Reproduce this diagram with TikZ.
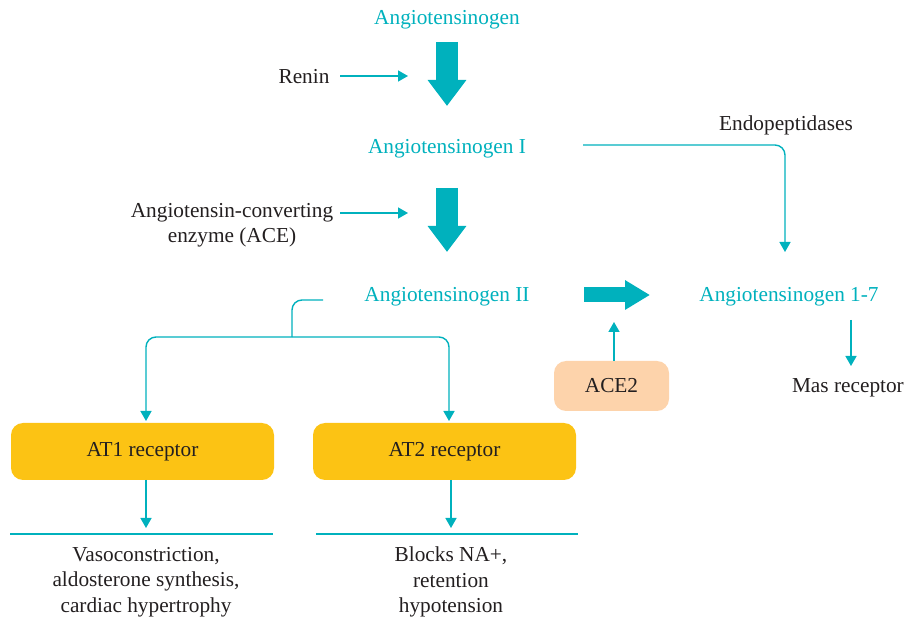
\documentclass[tikz,border=0pt]{standalone}
\usepackage{fontspec}
\setmainfont{Liberation Serif}
\usetikzlibrary{arrows.meta}
\definecolor{teal1}{HTML}{00B1BD}
\definecolor{ink}{HTML}{231F20}
\definecolor{gold}{HTML}{FCC314}
\definecolor{peach}{HTML}{FDD3AB}
\begin{document}
\begin{tikzpicture}[x=1pt,y=-1pt,font=\fontsize{21.3}{25.5}\selectfont,
  mol/.style={text=teal1,inner sep=0pt},
  lbl/.style={text=ink,inner sep=0pt,align=center},
  conn/.style={draw=teal1,line width=1.4pt},
  tarrow/.style={conn,-{Triangle[width=11pt,length=10pt]}},
  bigv/.style={draw=teal1,line width=22pt,-{Triangle[width=37pt,length=26pt]}},
  bigh/.style={draw=teal1,line width=15pt,-{Triangle[width=28pt,length=25pt]}},
  recbox/.style={rounded corners=12pt,fill=gold,minimum width=263pt,minimum height=57pt,text=ink,inner sep=0pt}]
\useasboundingbox (0,0) rectangle (906,620);
% molecules
\node[mol] (ang) at (447,20) {Angiotensinogen};
\node[mol] (ang1) at (447,149) {Angiotensinogen I};
\node[mol] (ang2) at (447,297) {Angiotensinogen II};
\node[mol] (ang17) at (789,297) {Angiotensinogen 1-7};
% labels
\node[lbl] (renin) at (304,77) {Renin};
\node[lbl] (ace) at (232,225) {Angiotensin-converting\\enzyme (ACE)};
\node[lbl] (endo) at (786,125) {Endopeptidases};
\node[lbl,anchor=east] (mas) at (904,388) {Mas receptor};
% boxes
\node[recbox] (at1) at (142.5,451.5) {AT1 receptor};
\node[recbox] (at2) at (444.5,451.5) {AT2 receptor};
\node[recbox,fill=peach,minimum width=115pt,minimum height=50pt] (ace2) at (611.5,386) {ACE2};
% effects
\node[lbl] (eff1) at (146,582) {Vasoconstriction,\\aldosterone synthesis,\\cardiac hypertrophy};
\node[lbl] (eff2) at (451,582) {Blocks NA+,\\retention\\hypotension};
% coordinates
\coordinate (b1s) at (447,42);  \coordinate (b1e) at (447,106);
\coordinate (b2s) at (447,188); \coordinate (b2e) at (447,252);
\coordinate (b3s) at (584,295); \coordinate (b3e) at (650,295);
\coordinate (rs) at (340,76);   \coordinate (re) at (408,76);
\coordinate (as) at (340,213);  \coordinate (ae) at (408,213);
\coordinate (es) at (583,145);  \coordinate (ee) at (785,252);
\coordinate (bs) at (323,300);  \coordinate (bm) at (292,337);
\coordinate (t1) at (146,421);  \coordinate (t2) at (449,421);
\coordinate (c2s) at (614,361); \coordinate (c2e) at (614,322);
\coordinate (ms) at (851,320);  \coordinate (me) at (851,366);
\coordinate (a1s) at (146,480); \coordinate (a1e) at (146,528);
\coordinate (a2s) at (451,480); \coordinate (a2e) at (451,528);
\coordinate (l1s) at (10,534);  \coordinate (l1e) at (273,534);
\coordinate (l2s) at (316,534); \coordinate (l2e) at (578,534);
% big arrows
\draw[bigv] (b1s) -- (b1e);
\draw[bigv] (b2s) -- (b2e);
\draw[bigh] (b3s) -- (b3e);
% thin arrows
\draw[tarrow] (rs) -- (re);
\draw[tarrow] (as) -- (ae);
\draw[tarrow,rounded corners=10pt] (es) -| (ee);
\draw[conn,rounded corners=10pt] (bs) -| (bm);
\draw[tarrow,rounded corners=10pt] (bm) -| (t1);
\draw[tarrow,rounded corners=10pt] (bm) -| (t2);
\draw[tarrow] (c2s) -- (c2e);
\draw[tarrow] (ms) -- (me);
\draw[tarrow] (a1s) -- (a1e);
\draw[tarrow] (a2s) -- (a2e);
\draw[conn] (l1s) -- (l1e);
\draw[conn] (l2s) -- (l2e);
\end{tikzpicture}
\end{document}
